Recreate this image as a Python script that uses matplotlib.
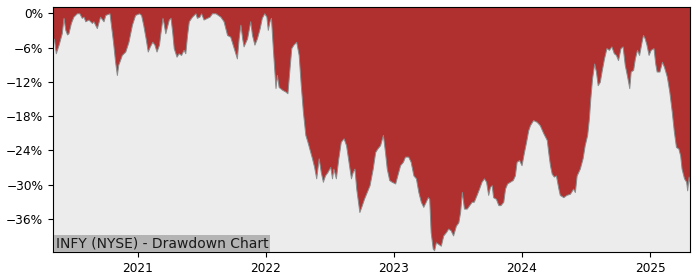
import matplotlib
matplotlib.use("Agg")
import matplotlib.pyplot as plt
import matplotlib.dates as mdates
from matplotlib.ticker import MultipleLocator, FuncFormatter
import pandas as pd

# drawdown of INFY (NYSE), in percent
dates = [
    "2020-05-05", "2020-05-08", "2020-05-13", "2020-05-21", "2020-05-30", "2020-06-04",
    "2020-06-09", "2020-06-14", "2020-06-18", "2020-06-25", "2020-07-02", "2020-07-12",
    "2020-07-19", "2020-07-26", "2020-07-31", "2020-08-05", "2020-08-14", "2020-08-24",
    "2020-08-28", "2020-09-07", "2020-09-16", "2020-09-26", "2020-10-01", "2020-10-13",
    "2020-10-17", "2020-10-23", "2020-10-29", "2020-11-03", "2020-11-07", "2020-11-12",
    "2020-11-17", "2020-11-27", "2020-12-06", "2020-12-16", "2020-12-25",
    "2021-01-05", "2021-01-11", "2021-01-17", "2021-01-24", "2021-01-30", "2021-02-05",
    "2021-02-12", "2021-02-18", "2021-02-24", "2021-03-03", "2021-03-07", "2021-03-13",
    "2021-03-16", "2021-03-21", "2021-03-26", "2021-03-31", "2021-04-05", "2021-04-10",
    "2021-04-14", "2021-04-22", "2021-04-28", "2021-05-05", "2021-05-12", "2021-05-17",
    "2021-05-22", "2021-05-27", "2021-06-05", "2021-06-15", "2021-06-19", "2021-06-26",
    "2021-07-01", "2021-07-08", "2021-07-18", "2021-07-25", "2021-08-01", "2021-08-11",
    "2021-08-25", "2021-09-03", "2021-09-13", "2021-09-22", "2021-10-02", "2021-10-11",
    "2021-10-16", "2021-10-21", "2021-10-26", "2021-10-30", "2021-11-09", "2021-11-18",
    "2021-11-23", "2021-11-30", "2021-12-07", "2021-12-15", "2021-12-21", "2021-12-28",
    "2022-01-03", "2022-01-07", "2022-01-12", "2022-01-16", "2022-01-22", "2022-01-29",
    "2022-02-02", "2022-02-07", "2022-02-17", "2022-02-26", "2022-03-04", "2022-03-10",
    "2022-03-15", "2022-03-21", "2022-03-29", "2022-04-05", "2022-04-11", "2022-04-17",
    "2022-04-24", "2022-04-30", "2022-05-08", "2022-05-13", "2022-05-19", "2022-05-25",
    "2022-06-01", "2022-06-07", "2022-06-13", "2022-06-19", "2022-06-26", "2022-07-04",
    "2022-07-09", "2022-07-13", "2022-07-20", "2022-07-27", "2022-08-03", "2022-08-11",
    "2022-08-18", "2022-08-25", "2022-09-01", "2022-09-06", "2022-09-11", "2022-09-16",
    "2022-09-21", "2022-09-25", "2022-10-02", "2022-10-08", "2022-10-16", "2022-10-24",
    "2022-11-02", "2022-11-09", "2022-11-15", "2022-11-23", "2022-12-01", "2022-12-07",
    "2022-12-12", "2022-12-19", "2022-12-26",
    "2023-01-05", "2023-01-11", "2023-01-19", "2023-01-27", "2023-02-02", "2023-02-11",
    "2023-02-18", "2023-02-26", "2023-03-05", "2023-03-12", "2023-03-19", "2023-03-26",
    "2023-04-02", "2023-04-08", "2023-04-12", "2023-04-16", "2023-04-22", "2023-04-26",
    "2023-05-01", "2023-05-08", "2023-05-15", "2023-05-22", "2023-05-30", "2023-06-05",
    "2023-06-12", "2023-06-19", "2023-06-27", "2023-07-04", "2023-07-09", "2023-07-14",
    "2023-07-20", "2023-07-28", "2023-08-04", "2023-08-11", "2023-08-17", "2023-08-25",
    "2023-09-01", "2023-09-08", "2023-09-15", "2023-09-21", "2023-09-27", "2023-10-02",
    "2023-10-07", "2023-10-11", "2023-10-19", "2023-10-26", "2023-11-01", "2023-11-09",
    "2023-11-14", "2023-11-20", "2023-11-28", "2023-12-06", "2023-12-12", "2023-12-17",
    "2023-12-24", "2023-12-31",
    "2024-01-07", "2024-01-13", "2024-01-19", "2024-01-24", "2024-02-02", "2024-02-12",
    "2024-02-21", "2024-03-02", "2024-03-12", "2024-03-16", "2024-03-21", "2024-03-26",
    "2024-04-01", "2024-04-07", "2024-04-14", "2024-04-18", "2024-04-28", "2024-05-07",
    "2024-05-17", "2024-05-26", "2024-05-31", "2024-06-05", "2024-06-14", "2024-06-22",
    "2024-06-28", "2024-07-05", "2024-07-10", "2024-07-14", "2024-07-19", "2024-07-25",
    "2024-07-30", "2024-08-04", "2024-08-10", "2024-08-15", "2024-08-22", "2024-08-29",
    "2024-09-05", "2024-09-12", "2024-09-19", "2024-09-25", "2024-10-01", "2024-10-08",
    "2024-10-14", "2024-10-20", "2024-10-27", "2024-11-02", "2024-11-06", "2024-11-13",
    "2024-11-18", "2024-11-24", "2024-11-30", "2024-12-07", "2024-12-11", "2024-12-16",
    "2024-12-21", "2024-12-27",
    "2025-01-02", "2025-01-10", "2025-01-15", "2025-01-19", "2025-01-27", "2025-02-03",
    "2025-02-09", "2025-02-17", "2025-02-24", "2025-03-03", "2025-03-09", "2025-03-15",
    "2025-03-22", "2025-03-27", "2025-03-31", "2025-04-07", "2025-04-13", "2025-04-16",
    "2025-04-20", "2025-04-24",
]
drawdown = [
    -4.3, -4.6, -7.0, -5.5, -3.5, -0.8,
    -2.9, -3.7, -3.5, -1.7, -0.6, 0.0,
    0.0, -0.8, -0.6, -1.4, -1.1, -1.7,
    -1.4, -2.6, -0.6, -1.4, -0.3, 0.0,
    -2.0, -5.0, -8.5, -10.8, -9.0, -8.2,
    -7.3, -6.7, -5.0, -2.0, -0.3,
    0.0, -0.3, -2.0, -4.4, -6.7, -5.8,
    -5.0, -5.5, -6.7, -5.5, -3.5, -0.8,
    -1.7, -3.5, -2.3, -1.1, -0.8, -3.5,
    -6.1, -7.6, -7.0, -7.3, -6.4, -7.0,
    -3.8, -1.4, -0.6, 0.0, -0.8, -0.6,
    0.0, -1.1, -0.8, -0.6, 0.0, 0.0,
    -0.6, -1.4, -3.8, -4.1, -6.1, -7.9,
    -4.4, -2.0, -4.4, -5.8, -4.4, -1.4,
    -3.8, -5.5, -4.4, -2.6, -0.8, 0.0,
    -0.6, -2.9, -1.4, -0.8, -6.7, -13.1,
    -10.8, -12.9, -13.4, -13.7, -14.0, -9.6,
    -6.1, -5.5, -5.0, -7.3, -12.6, -17.2,
    -21.3, -22.5, -24.3, -25.4, -26.9, -28.9,
    -25.4, -27.8, -29.5, -28.4, -27.8, -26.9,
    -28.9, -27.2, -28.9, -25.4, -22.5, -21.9,
    -23.1, -26.0, -28.9, -27.8, -27.2, -30.7,
    -33.0, -34.8, -33.6, -32.5, -31.3, -30.1,
    -27.2, -24.3, -23.7, -23.1, -21.3, -24.3,
    -27.2, -29.2, -29.5,
    -29.8, -28.4, -26.6, -26.0, -25.1, -25.1,
    -26.0, -28.4, -28.9, -31.3, -33.0, -33.9,
    -33.0, -32.2, -32.5, -38.3, -41.2, -41.5,
    -40.1, -40.4, -40.7, -38.9, -38.3, -37.7,
    -38.0, -38.9, -37.2, -36.6, -34.8, -31.3,
    -34.2, -34.2, -33.6, -33.0, -33.0, -31.8,
    -30.7, -29.5, -28.9, -29.5, -31.8, -30.4,
    -30.1, -32.2, -32.5, -33.6, -33.6, -33.0,
    -30.7, -29.8, -29.5, -29.2, -28.4, -26.0,
    -25.7, -26.6,
    -24.3, -22.5, -20.5, -19.6, -18.7, -19.0,
    -19.6, -21.0, -22.2, -24.3, -26.6, -28.1,
    -28.6, -28.4, -30.7, -31.8, -32.2, -31.8,
    -31.6, -30.7, -31.3, -28.4, -27.2, -25.4,
    -23.1, -21.3, -18.4, -14.9, -11.4, -8.8,
    -10.2, -12.6, -12.0, -10.2, -7.9, -6.1,
    -6.4, -5.8, -7.0, -7.3, -8.2, -6.1,
    -5.8, -9.0, -11.1, -13.1, -10.2, -9.9,
    -7.9, -6.4, -7.3, -5.0, -3.8, -4.4,
    -5.5, -7.3,
    -6.4, -6.1, -8.8, -10.2, -10.2, -8.5,
    -9.4, -11.1, -13.7, -17.2, -20.7, -23.4,
    -23.7, -24.9, -27.2, -28.9, -29.5, -31.0,
    -28.6, -30.0,
]
title = "INFY (NYSE) - Drawdown Chart"

df = pd.DataFrame({"date": pd.to_datetime(dates), "dd": drawdown})
ymin = df["dd"].min() - 0.3

fig = plt.figure(figsize=(7, 2.8), dpi=100)
ax = fig.add_axes([0.0757, 0.1, 0.91, 0.875])
ax.set_facecolor("#b03030")

# grey area under the drawdown curve, red above it
ax.fill_between(df["date"], df["dd"], ymin, facecolor="#ececec",
                edgecolor="#8c8c8c", linewidth=0.7)

ax.set_xlim(df["date"].iloc[0], df["date"].iloc[-1])
ax.set_ylim(ymin, 1.1)

ax.yaxis.set_major_locator(MultipleLocator(6))
ax.yaxis.set_major_formatter(FuncFormatter(lambda v, p: f"{v:.0f}%".replace("-", "\u2212")))
ax.xaxis.set_major_locator(mdates.YearLocator())
ax.xaxis.set_major_formatter(mdates.DateFormatter("%Y"))
ax.tick_params(labelsize=8.7)

ax.annotate(title, xy=(0, 0), xycoords="axes fraction", xytext=(2.0, 1.2),
            textcoords="offset points", ha="left", va="bottom", fontsize=10,
            color="#1a1a1a",
            bbox=dict(facecolor="#b4b4b4", edgecolor="none", pad=1.2))

fig.savefig("out.png", dpi=100)
